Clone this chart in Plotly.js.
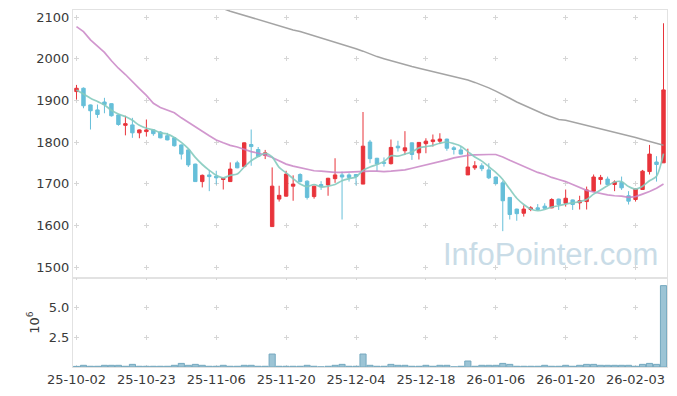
<!DOCTYPE html>
<html>
<head>
<meta charset="utf-8">
<script src="https://cdn.plot.ly/plotly-3.0.1.min.js"></script>
<style>
html,body{margin:0;padding:0;background:#ffffff;}
#chart{width:677px;height:396px;}
</style>
</head>
<body>
<div id="chart"></div>
<script>
const dates = [
'25-10-02','25-10-10','25-10-13','25-10-14','25-10-15','25-10-16','25-10-17','25-10-20','25-10-21','25-10-22',
'25-10-23','25-10-24','25-10-27','25-10-28','25-10-29','25-10-30','25-10-31','25-11-03','25-11-04','25-11-05',
'25-11-06','25-11-07','25-11-10','25-11-11','25-11-12','25-11-13','25-11-14','25-11-17','25-11-18','25-11-19',
'25-11-20','25-11-21','25-11-24','25-11-25','25-11-26','25-11-27','25-11-28','25-12-01','25-12-02','25-12-03',
'25-12-04','25-12-05','25-12-08','25-12-09','25-12-10','25-12-11','25-12-12','25-12-15','25-12-16','25-12-17',
'25-12-18','25-12-19','25-12-22','25-12-23','25-12-24','25-12-26','25-12-29','25-12-30','26-01-02','26-01-05',
'26-01-06','26-01-07','26-01-08','26-01-09','26-01-12','26-01-13','26-01-14','26-01-15','26-01-16','26-01-19',
'26-01-20','26-01-21','26-01-22','26-01-23','26-01-26','26-01-27','26-01-28','26-01-29','26-01-30','26-02-02',
'26-02-03','26-02-04','26-02-05','26-02-06','26-02-09'];

const openP = [
1921,1929,1889,1877,1896,1892,1865,1840,1841,1822,
1825,1829,1824,1815,1810,1793,1781,1747,1705,1721,
1718,1710,1705,1750,1741,1794,1782,1768,1597,1663,
1670,1694,1722,1706,1669,1698,1697,1712,1721,1721,
1722,1699,1800,1761,1751,1748,1790,1779,1798,1774,
1796,1801,1802,1807,1786,1781,1721,1738,1743,1733,
1716,1702,1667,1639,1629,1638,1642,1646,1642,1663,
1653,1661,1654,1657,1682,1710,1711,1698,1703,1671,
1662,1686,1729,1752,1750];

const highP = [
1937,1931,1890,1890,1906,1893,1866,1863,1858,1830,
1854,1830,1826,1822,1811,1794,1782,1748,1722,1733,
1731,1714,1751,1755,1799,1830,1788,1781,1739,1695,
1731,1720,1725,1708,1695,1706,1714,1761,1729,1725,
1723,1872,1805,1762,1763,1806,1803,1826,1799,1800,
1809,1818,1821,1808,1790,1790,1784,1754,1749,1749,
1717,1707,1668,1640,1648,1646,1651,1653,1665,1664,
1686,1662,1671,1693,1722,1721,1717,1708,1717,1682,
1688,1733,1793,1766,2085];

const lowP = [
1902,1881,1830,1858,1869,1861,1839,1816,1810,1809,
1813,1815,1809,1804,1789,1758,1740,1704,1691,1682,
1698,1686,1704,1737,1740,1743,1764,1759,1597,1657,
1669,1659,1703,1662,1664,1685,1671,1702,1614,1705,
1696,1699,1749,1730,1741,1746,1777,1769,1757,1758,
1773,1789,1795,1779,1770,1770,1721,1733,1730,1711,
1698,1586,1614,1611,1621,1634,1636,1640,1641,1637,
1645,1637,1638,1638,1680,1698,1696,1682,1685,1650,
1657,1685,1722,1705,1750];

const closeP = [
1929,1887,1875,1866,1890,1863,1842,1844,1822,1829,
1829,1820,1810,1805,1791,1771,1745,1705,1720,1717,
1714,1713,1735,1738,1798,1789,1765,1774,1694,1672,
1723,1699,1705,1667,1694,1693,1713,1721,1716,1715,
1717,1790,1760,1747,1749,1787,1786,1786,1770,1799,
1802,1805,1807,1785,1782,1771,1740,1743,1736,1714,
1700,1659,1626,1628,1639,1642,1638,1641,1662,1650,
1665,1650,1659,1685,1716,1715,1698,1704,1690,1658,
1687,1730,1771,1746,1925];

const maShort = [
1925,1915,1905,1897,1889,1876,1867,1861,1852,1840,
1833,1829,1822,1819,1811,1799,1784,1763,1746,1732,
1720,1714,1720,1723,1740,1755,1765,1773,1764,1739,
1726,1712,1699,1693,1698,1692,1694,1698,1707,1712,
1716,1732,1740,1746,1753,1767,1766,1771,1776,1786,
1789,1792,1797,1800,1796,1790,1777,1764,1754,1741,
1727,1710,1687,1665,1650,1639,1635,1638,1644,1647,
1651,1654,1657,1662,1675,1685,1695,1704,1705,1693,
1687,1694,1707,1718,1772];

const maMid = [
2077,2065,2045,2030,2015,1995,1977,1962,1944,1928,
1912,1893,1883,1877,1870,1858,1848,1838,1826,1815,
1805,1798,1792,1788,1782,1777,1773,1769,1763,1755,
1747,1742,1738,1735,1731,1730,1728,1727,1727,1728,
1729,1730,1730,1730,1729,1730,1731,1733,1737,1741,
1744,1748,1753,1757,1762,1765,1768,1769,1770,1770,
1770,1764,1756,1749,1741,1734,1727,1722,1715,1710,
1705,1698,1690,1684,1680,1676,1673,1671,1670,1667,
1669,1675,1681,1689,1699];

const maLong = [
null,null,null,null,null,null,null,null,null,null,
null,null,null,null,null,null,null,null,null,2131,
2126,2120,2114,2109,2104,2098,2093,2088,2083,2078,
2073,2069,2065,2060,2055,2050,2045,2040,2035,2030,
2024,2018,2011,2005,2000,1995,1990,1985,1981,1977,
1973,1969,1965,1962,1958,1954,1949,1943,1937,1930,
1922,1914,1905,1896,1888,1880,1873,1866,1860,1854,
1852,1848,1844,1840,1836,1832,1828,1824,1820,1815,
1811,1806,1801,1796,1792];

const volumeM = [
0.05,0.14,0.06,0.06,0.14,0.14,0.14,0.06,0.22,0.06,
0.06,0.06,0.06,0.06,0.14,0.30,0.14,0.22,0.14,0.06,
0.06,0.14,0.06,0.06,0.14,0.14,0.06,0.06,1.08,0.06,
0.06,0.06,0.06,0.14,0.06,0.01,0.06,0.14,0.22,0.06,
0.06,1.08,0.14,0.06,0.06,0.22,0.14,0.14,0.06,0.06,
0.14,0.06,0.14,0.14,0.01,0.06,0.50,0.06,0.14,0.14,
0.14,0.30,0.22,0.06,0.06,0.06,0.06,0.14,0.06,0.06,
0.14,0.06,0.14,0.22,0.22,0.14,0.14,0.14,0.14,0.14,
0.06,0.22,0.30,0.22,6.78];

const tickDates = ['25-10-02','25-10-23','25-11-06','25-11-20','25-12-04','25-12-18','26-01-06','26-01-20','26-02-03'];
const priceTicks = [1500,1600,1700,1800,1900,2000,2100];
const volumeTicks = [2.5,5.0];
const watermark = 'InfoPointer.com';

const RED = '#e8343b';
const BLUE = '#66bfd9';
const tickFont = {family:'DejaVu Sans, Verdana, sans-serif', size:13, color:'#3a3a3a'};
const lineCol = '#e2e2e2';
const gridCol = '#d6d6d6';

const traces = [
  {
    type:'candlestick', x:dates, open:openP, high:highP, low:lowP, close:closeP,
    xaxis:'x', yaxis:'y', whiskerwidth:0,
    increasing:{line:{color:RED,width:1}, fillcolor:RED},
    decreasing:{line:{color:BLUE,width:1}, fillcolor:BLUE},
    hoverinfo:'skip', showlegend:false
  },
  {type:'scatter', mode:'lines', x:dates, y:maLong, xaxis:'x', yaxis:'y',
   line:{color:'#9a9a9a', width:1.5}, opacity:0.9, hoverinfo:'skip', showlegend:false},
  {type:'scatter', mode:'lines', x:dates, y:maMid, xaxis:'x', yaxis:'y',
   line:{color:'#c985c6', width:1.7}, opacity:0.85, hoverinfo:'skip', showlegend:false},
  {type:'scatter', mode:'lines', x:dates, y:maShort, xaxis:'x', yaxis:'y',
   line:{color:'#85cbbf', width:1.7, shape:'spline', smoothing:0.8}, opacity:0.9, hoverinfo:'skip', showlegend:false},
  {type:'bar', x:dates, y:volumeM, xaxis:'x2', yaxis:'y2',
   marker:{color:'#9cc4d5', line:{color:'#74a8bf', width:1}},
   hoverinfo:'skip', showlegend:false}
];

const volDomainTop = 89/357;

const layout = {
  width:677, height:396,
  margin:{l:73, r:10, t:10, b:29, pad:0},
  paper_bgcolor:'#ffffff', plot_bgcolor:'#ffffff',
  font:tickFont,
  showlegend:false,
  bargap:0.12,
  xaxis:{
    type:'category', categoryorder:'array', categoryarray:dates,
    range:[-0.5, dates.length-0.5], anchor:'y', domain:[0,1],
    tickvals:tickDates, ticktext:tickDates, showticklabels:false, ticks:'',
    showgrid:true, gridcolor:gridCol, gridwidth:1, griddash:'0px,4.5px,5px,32.17px',
    showline:true, mirror:true, linecolor:lineCol, linewidth:1,
    zeroline:false, rangeslider:{visible:false}, fixedrange:true
  },
  xaxis2:{
    type:'category', categoryorder:'array', categoryarray:dates,
    range:[-0.5, dates.length-0.5], anchor:'y2', domain:[0,1],
    tickvals:tickDates, ticktext:tickDates, showticklabels:true, ticks:'',
    tickfont:tickFont,
    showgrid:true, gridcolor:gridCol, gridwidth:1, griddash:'1.5px,25px,3.5px,0px',
    showline:true, mirror:true, linecolor:lineCol, linewidth:1,
    zeroline:false, fixedrange:true
  },
  yaxis:{
    domain:[volDomainTop,1], anchor:'x', range:[1473.6, 2116.8],
    tickvals:priceTicks, ticks:'', tickfont:tickFont,
    showgrid:true, gridcolor:gridCol, gridwidth:1, griddash:'0px,1px,5px,63.88px',
    showline:true, mirror:true, linecolor:lineCol, linewidth:1,
    zeroline:false, fixedrange:true, automargin:false
  },
  yaxis2:{
    domain:[0,volDomainTop], anchor:'x2', range:[0, 89/12],
    tickvals:volumeTicks, tickformat:'.1f', ticks:'', tickfont:tickFont,
    title:{text:'10<sup>6</sup>', font:{family:'DejaVu Sans, sans-serif', size:13, color:'#3a3a3a'}, standoff:6},
    showgrid:true, gridcolor:gridCol, gridwidth:1, griddash:'0px,1px,5px,63.88px',
    showline:true, mirror:true, linecolor:lineCol, linewidth:1,
    zeroline:false, fixedrange:true, automargin:false
  },
  annotations:[{
    text:watermark, xref:'paper', yref:'paper', x:0.8047, y:0.315,
    xanchor:'center', yanchor:'middle', showarrow:false,
    font:{family:'Liberation Sans, Arial, sans-serif', size:31, color:'#c9dce7'}
  }]
};

Plotly.newPlot('chart', traces, layout, {displayModeBar:false, staticPlot:true});
</script>
</body>
</html>
